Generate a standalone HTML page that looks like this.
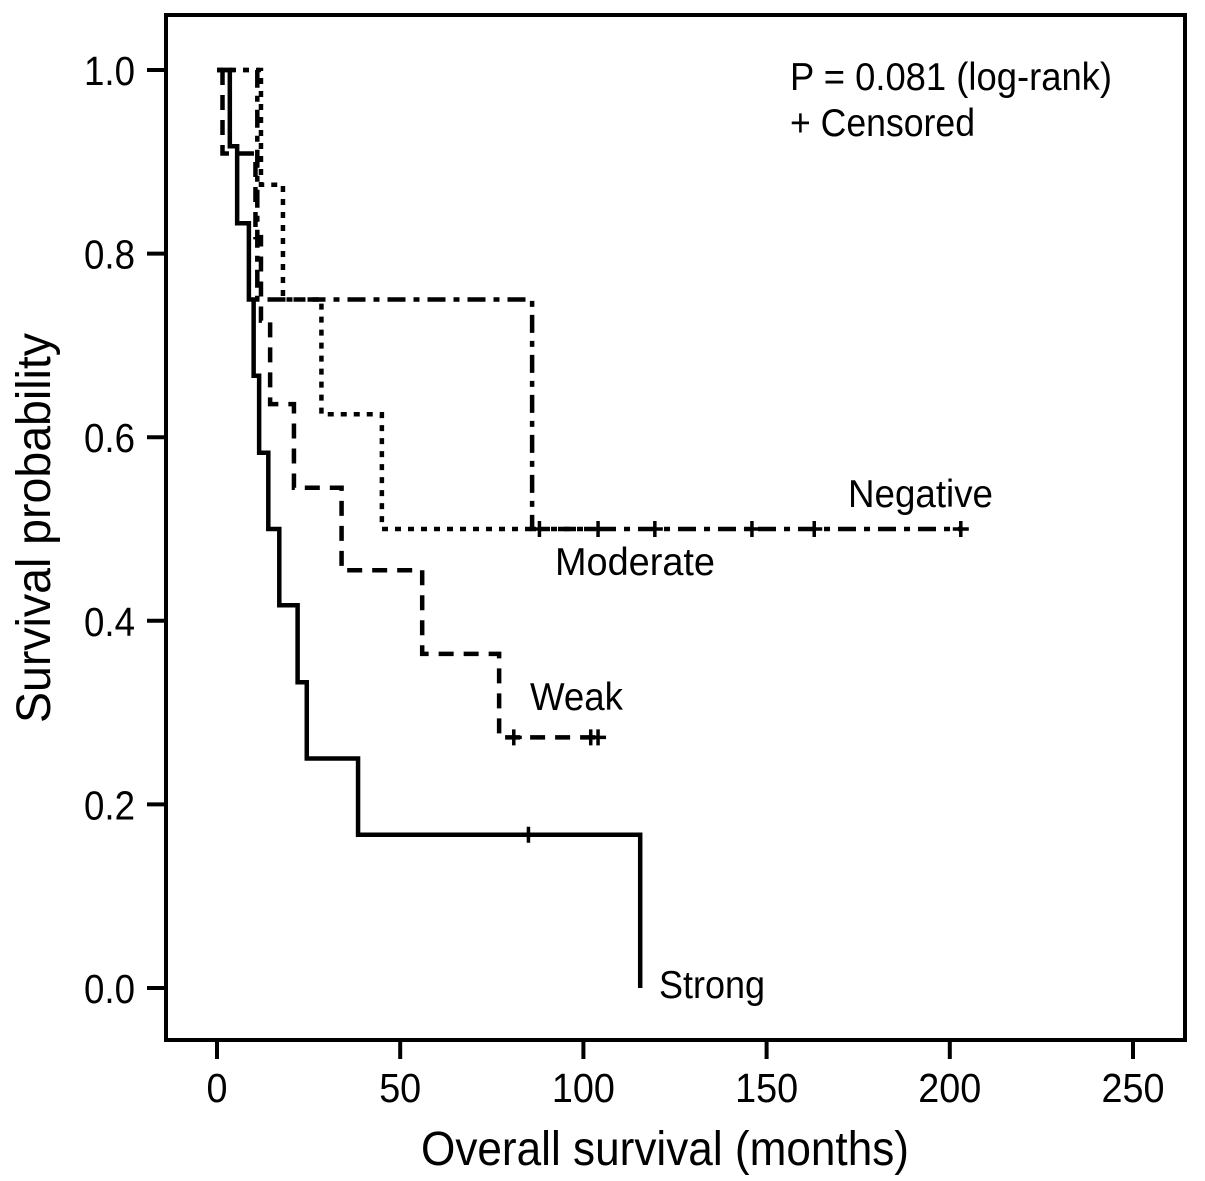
<!DOCTYPE html>
<html><head><meta charset="utf-8"><style>
html,body{margin:0;padding:0;background:#fff;}
svg{display:block;font-family:"Liberation Sans",sans-serif;}
</style></head><body>
<svg id="chart" width="1205" height="1181" viewBox="0 0 1205 1181">
<rect x="166" y="15" width="1019" height="1025" fill="none" stroke="#000" stroke-width="4"/>
<g id="axes"></g>
<g id="curves"></g>
<text x="50" y="528" transform="rotate(-90 50 528)" text-anchor="middle" font-size="48" textLength="390" lengthAdjust="spacingAndGlyphs">Survival probability</text>
<text x="665" y="1165" text-anchor="middle" font-size="48" textLength="488" lengthAdjust="spacingAndGlyphs">Overall survival (months)</text>
<text x="790" y="90" font-size="39" textLength="322" lengthAdjust="spacingAndGlyphs">P = 0.081 (log-rank)</text>
<text x="790" y="136" font-size="39" textLength="185" lengthAdjust="spacingAndGlyphs">+ Censored</text>
<text x="848" y="507" font-size="39" textLength="145" lengthAdjust="spacingAndGlyphs">Negative</text>
<text x="555" y="575" font-size="39" textLength="160" lengthAdjust="spacingAndGlyphs">Moderate</text>
<text x="530" y="710" font-size="39" textLength="93" lengthAdjust="spacingAndGlyphs">Weak</text>
<text x="659" y="998" font-size="39" textLength="106" lengthAdjust="spacingAndGlyphs">Strong</text>
</svg>
<script>
const xTicks = [0, 50, 100, 150, 200, 250];
const yTicks = [0.0, 0.2, 0.4, 0.6, 0.8, 1.0];
const strongTimes = [0, 3.5, 5.5, 8.7, 10, 11.5, 14, 17, 22, 24.5, 38.5, 115.5];
const strongSurv = [1.0, 0.917, 0.833, 0.75, 0.667, 0.583, 0.5, 0.417, 0.333, 0.25, 0.167, 0.0];
const strongEnd = 115.5;
const strongCensor = [85];
const weakTimes = [1.5, 1.5, 10.5, 12, 14.5, 21, 34, 56, 77];
const weakSurv = [1.0, 0.909, 0.818, 0.727, 0.636, 0.545, 0.455, 0.364, 0.273];
const weakEnd = 104;
const weakCensor = [81, 102, 104];
const moderateTimes = [0, 12, 18, 28.5, 45];
const moderateSurv = [1.0, 0.875, 0.75, 0.625, 0.5];
const moderateEnd = 104;
const moderateCensor = [88, 104];
const negativeTimes = [0, 11, 86];
const negativeSurv = [1.0, 0.75, 0.5];
const negativeEnd = 203.5;
const negativeCensor = [119.5, 146, 163, 203];

const NS = "http://www.w3.org/2000/svg";
const xS = t => 217 + t * (1133 - 217) / 250;
const yS = p => 988 - p * (988 - 70);
function mk(tag, attrs, parent) {
  const e = document.createElementNS(NS, tag);
  for (const k in attrs) e.setAttribute(k, attrs[k]);
  parent.appendChild(e);
  return e;
}
const axes = document.getElementById('axes');
xTicks.forEach(v => {
  const l = mk('line', {x1: xS(v), x2: xS(v), y1: 1040, y2: 1059, stroke: '#000', 'stroke-width': 4}, axes);
  
  
  const s = String(v);
  const t = mk('text', {x: xS(v), y: 1102, 'text-anchor': 'middle', 'font-size': 41, textLength: 21 * s.length, lengthAdjust: 'spacingAndGlyphs'}, axes);
  t.textContent = s;
  
  
});
yTicks.forEach(v => {
  const l = mk('line', {x1: 147, x2: 166, y1: yS(v), y2: yS(v), stroke: '#000', 'stroke-width': 4}, axes);
  
  
  const t = mk('text', {x: 135, y: yS(v) + 15, 'text-anchor': 'end', 'font-size': 41, textLength: 51, lengthAdjust: 'spacingAndGlyphs'}, axes);
  t.textContent = v.toFixed(1);
  
  
});
const curves = document.getElementById('curves');
function stepPath(times, surv, end) {
  let d = 'M' + xS(times[0]) + ' ' + yS(surv[0]);
  for (let i = 1; i < times.length; i++) {
    d += ' H' + xS(times[i]) + ' V' + yS(surv[i]);
  }
  d += ' H' + xS(end);
  return d;
}
function survAt(times, surv, t) {
  let s = surv[0];
  for (let i = 0; i < times.length; i++) if (times[i] <= t) s = surv[i];
  return s;
}
function drawCurve(name, times, surv, end, censor, dash) {
  const p = mk('path', {d: stepPath(times, surv, end), fill: 'none', stroke: '#000', 'stroke-width': 4.5, 'stroke-dasharray': dash}, curves);
  
  
  censor.forEach(c => {
    const x = xS(c), y = yS(survAt(times, surv, c));
    const m = mk('path', {d: `M${x-8} ${y} H${x+8} M${x} ${y-8} V${y+8}`, stroke: '#000', 'stroke-width': 3.5}, curves);
    
    
  });
}
drawCurve('strong', strongTimes, strongSurv, strongEnd, strongCensor, 'none');
drawCurve('weak', weakTimes, weakSurv, weakEnd, weakCensor, '15 10');
drawCurve('moderate', moderateTimes, moderateSurv, moderateEnd, moderateCensor, '6 7');
drawCurve('negative', negativeTimes, negativeSurv, negativeEnd, negativeCensor, '18 8 6 8');
</script>
</body></html>
